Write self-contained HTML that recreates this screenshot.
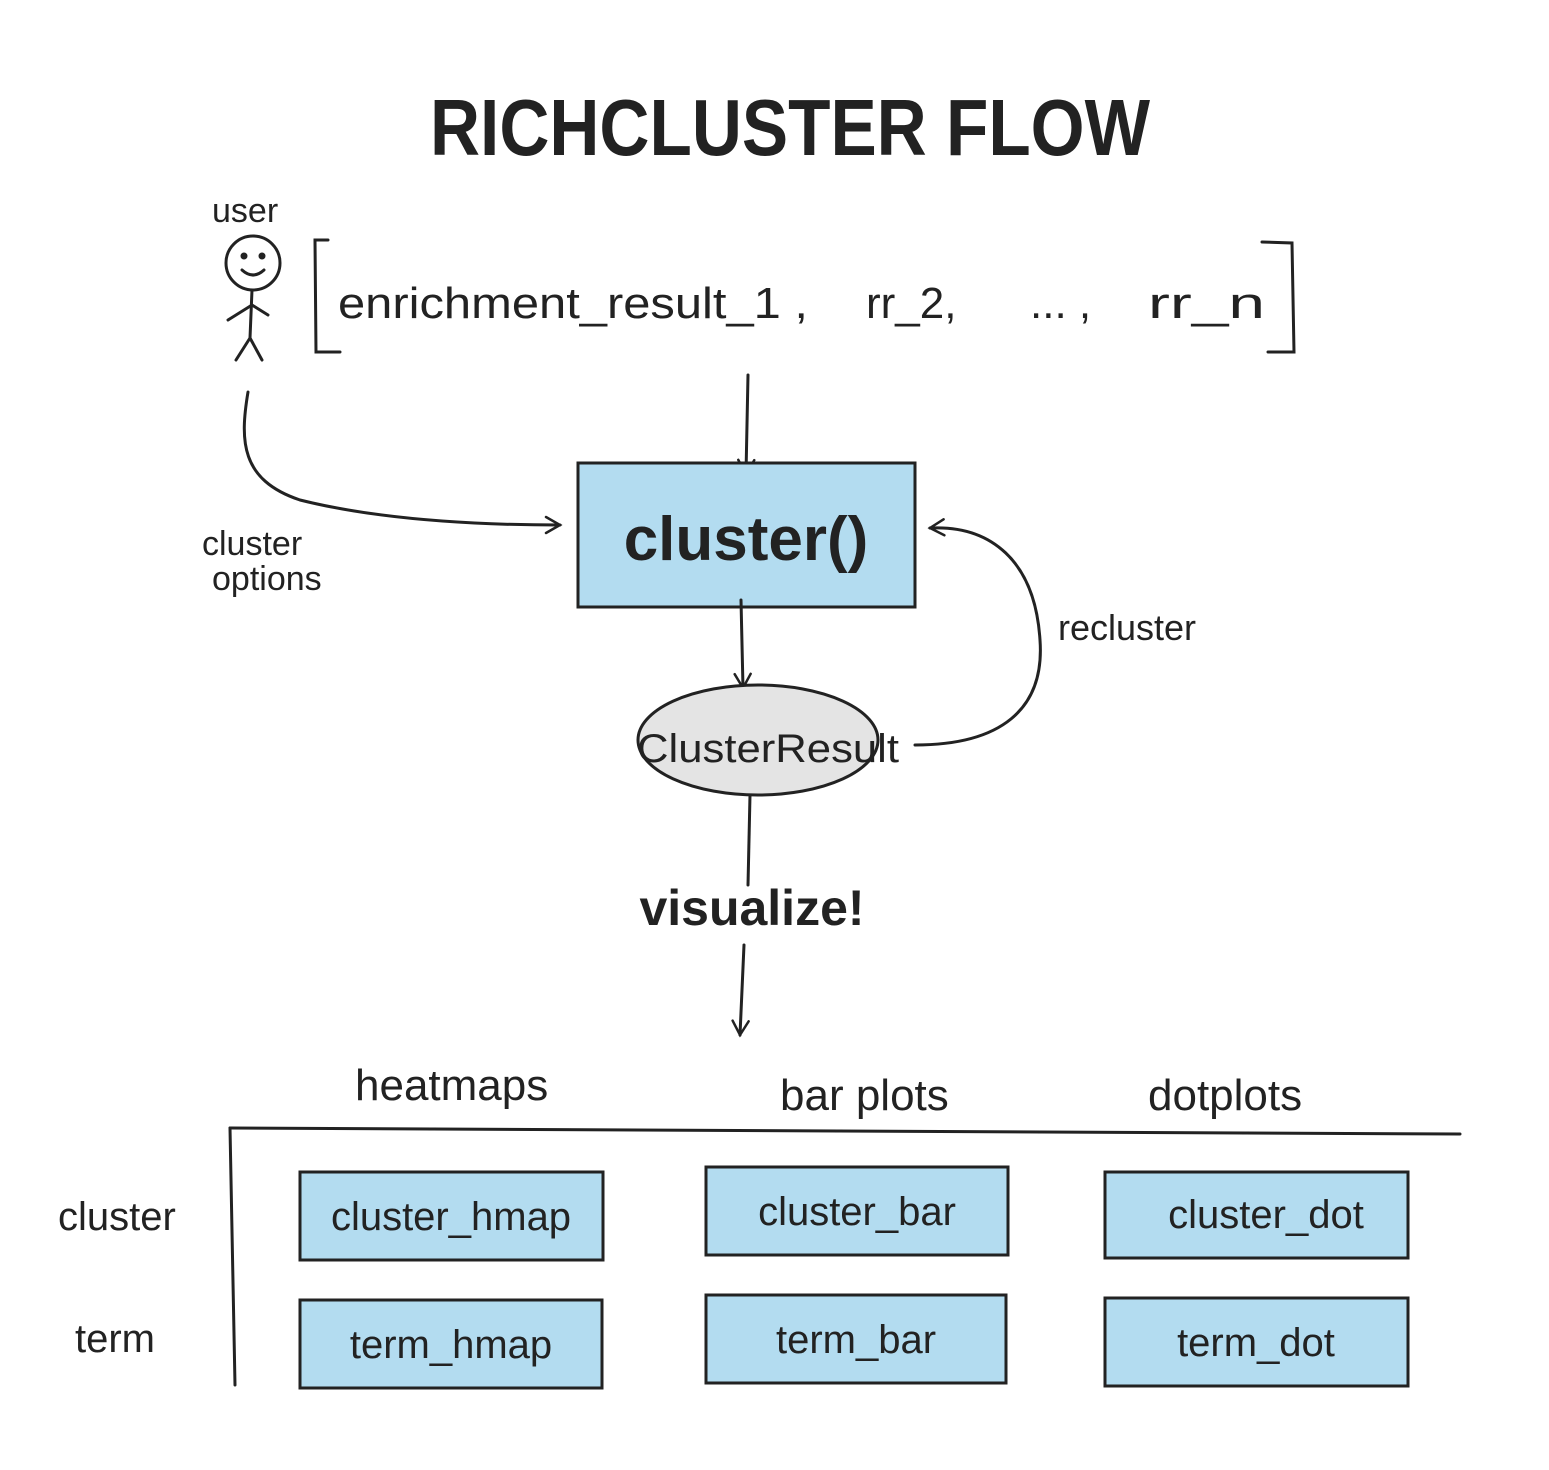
<!DOCTYPE html>
<html><head><meta charset="utf-8"><style>
html,body{margin:0;padding:0;background:#fff;}
svg{display:block;}
text{font-family:"Liberation Sans",sans-serif;fill:#222;}
</style></head><body>
<svg width="1549" height="1470" viewBox="0 0 1549 1470" xmlns="http://www.w3.org/2000/svg">
<defs>
<marker id="ah" viewBox="0 0 20 20" refX="16" refY="10" markerWidth="20" markerHeight="20" markerUnits="userSpaceOnUse" orient="auto">
<path d="M2,2 L16,10 L2,18" fill="none" stroke="#222" stroke-width="2.5" stroke-linecap="round"/>
</marker>
</defs>
<text x="430" y="155" font-size="80" font-weight="bold" textLength="720" lengthAdjust="spacingAndGlyphs">RICHCLUSTER FLOW</text>
<text x="212" y="222" font-size="34">user</text>
<g stroke="#222" stroke-width="3" fill="none" stroke-linecap="round">
<circle cx="253" cy="263" r="27"/>
<circle cx="244" cy="256" r="2" fill="#222"/><circle cx="262" cy="256" r="2" fill="#222"/>
<path d="M242,270 Q253,280 264,270"/>
<path d="M252,290 L250,338"/>
<path d="M228,320 L252,305 L268,315"/>
<path d="M250,338 L236,360 M250,338 L262,360"/>
<path d="M328,240 L315,240 L316,352 L340,352"/>
<path d="M1262,242 L1292,243 L1294,352 L1268,352"/>
<path d="M748,375 L746,474" marker-end="url(#ah)"/>
<path d="M248,392 C240,440 240,480 300,500 C380,520 480,525 560,525" marker-end="url(#ah)"/>
<rect x="578" y="463" width="337" height="144" fill="#b3dcf0"/>
<path d="M741,600 L743,688" marker-end="url(#ah)"/>
<ellipse cx="758" cy="740" rx="120" ry="55" fill="#e4e4e4"/>
<path d="M915,745 C1000,745 1045,710 1040,640 C1035,560 990,525 930,528" marker-end="url(#ah)"/>
<path d="M750,795 L748,885"/>
<path d="M744,945 L740,1035" marker-end="url(#ah)"/>
<path d="M230,1128 L1460,1134"/>
<path d="M230,1128 L235,1385"/>
<rect x="300" y="1172" width="303" height="88" fill="#b3dcf0"/>
<rect x="706" y="1167" width="302" height="88" fill="#b3dcf0"/>
<rect x="1105" y="1172" width="303" height="86" fill="#b3dcf0"/>
<rect x="300" y="1300" width="302" height="88" fill="#b3dcf0"/>
<rect x="706" y="1295" width="300" height="88" fill="#b3dcf0"/>
<rect x="1105" y="1298" width="303" height="88" fill="#b3dcf0"/>
</g>
<text x="338" y="318" font-size="44" textLength="470" lengthAdjust="spacingAndGlyphs">enrichment_result_1 ,</text>
<text x="866" y="318" font-size="44">rr_2,</text>
<text x="1030" y="318" font-size="44">... ,</text>
<text x="1148" y="318" font-size="44" textLength="117" lengthAdjust="spacingAndGlyphs">rr_n</text>
<text x="746" y="560" font-size="62" font-weight="bold" text-anchor="middle">cluster()</text>
<text x="202" y="555" font-size="34">cluster</text>
<text x="212" y="590" font-size="34">options</text>
<text x="637" y="762" font-size="40" textLength="262" lengthAdjust="spacingAndGlyphs">ClusterResult</text>
<text x="1058" y="640" font-size="36">recluster</text>
<text x="752" y="925" font-size="50" font-weight="bold" text-anchor="middle">visualize!</text>
<text x="355" y="1100" font-size="44">heatmaps</text>
<text x="780" y="1110" font-size="44">bar plots</text>
<text x="1148" y="1110" font-size="44">dotplots</text>
<text x="58" y="1230" font-size="40">cluster</text>
<text x="75" y="1352" font-size="40">term</text>
<g font-size="40" text-anchor="middle">
<text x="451" y="1230">cluster_hmap</text>
<text x="857" y="1225">cluster_bar</text>
<text x="1266" y="1228">cluster_dot</text>
<text x="451" y="1358">term_hmap</text>
<text x="856" y="1353">term_bar</text>
<text x="1256" y="1356">term_dot</text>
</g>
</svg>
</body></html>
